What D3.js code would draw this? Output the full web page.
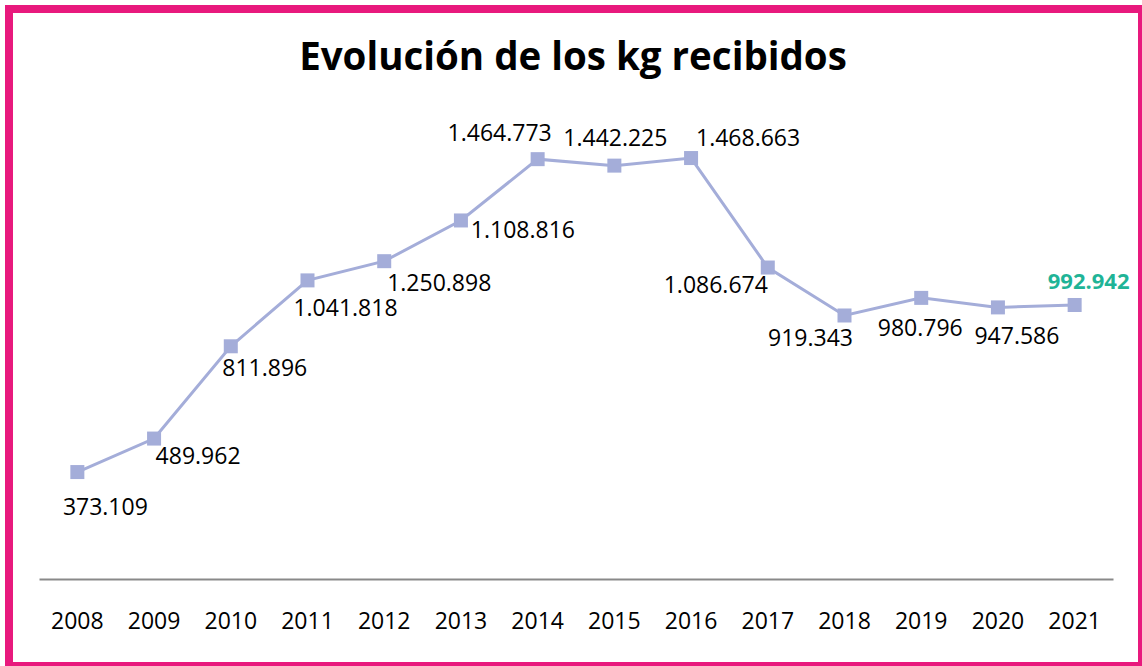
<!DOCTYPE html>
<html>
<head>
<meta charset="utf-8">
<script src="https://cdn.jsdelivr.net/npm/d3@7"></script>
<style>
  body { margin: 0; background: #fff; }
  svg { display: block; }
</style>
</head>
<body>
<div id="chart"></div>
<script>
// data: plotted values
const years = ["2008", "2009", "2010", "2011", "2012", "2013", "2014",
               "2015", "2016", "2017", "2018", "2019", "2020", "2021"];
const kg = [373109, 489962, 811896, 1041818, 1108816, 1250898, 1464773,
            1442225, 1468663, 1086674, 919343, 980796, 947586, 956000];
// label texts exactly as printed next to each marker
const labels = ["373.109", "489.962", "811.896", "1.041.818", "1.250.898", "1.108.816", "1.464.773",
                "1.442.225", "1.468.663", "1.086.674", "919.343", "980.796", "947.586", "992.942"];

// where each value label sits relative to its marker (dx, dy of baseline)
const labelOffset = [[28, 43], [44, 25], [34, 30], [38, 36], [55, 30], [62, 18], [-38, -18],
                     [1, -20], [57, -12], [-52, 25], [-34, 31], [-1, 38], [19, 37], [14, -16]];

const width = 1142, height = 666;
const lineColor = "#a4add9";
const pink = "#e8197d";

const svg = d3.select("#chart").append("svg")
    .attr("width", width)
    .attr("height", height);

// frame
svg.append("rect")
    .attr("x", 9).attr("y", 9)
    .attr("width", 1133).attr("height", 657)
    .attr("fill", "#fff")
    .attr("stroke", pink)
    .attr("stroke-width", 8);

svg.append("text")
    .attr("x", 573).attr("y", 70)
    .attr("text-anchor", "middle")
    .attr("font-family", "'Open Sans', sans-serif")
    .attr("font-weight", 700)
    .attr("font-size", 38.5)
    .attr("fill", "#000")
    .text("Evolución de los kg recibidos");

const x = d3.scaleBand().domain(years).range([39, 1113]);
const y = d3.scaleLinear().domain([0, 1600000]).range([579, 120.4]);
const cx = d => x(d) + x.bandwidth() / 2;

// category axis
const xAxis = svg.append("g")
    .attr("transform", `translate(0,${y(0)})`)
    .call(d3.axisBottom(x).tickSize(0).tickPadding(50));
xAxis.select(".domain").attr("stroke", "#898989").attr("stroke-width", 2);
xAxis.selectAll("text")
    .attr("font-family", "'Open Sans', sans-serif")
    .attr("font-size", 23)
    .attr("fill", "#000")
    .attr("dy", 0);

const pts = years.map((yr, i) => ({
    year: yr, value: kg[i], label: labels[i], off: labelOffset[i], last: i === years.length - 1
}));

svg.append("path")
    .datum(pts)
    .attr("fill", "none")
    .attr("stroke", lineColor)
    .attr("stroke-width", 3)
    .attr("d", d3.line().x(d => cx(d.year)).y(d => y(d.value)));

svg.selectAll("rect.marker")
    .data(pts)
    .join("rect")
    .attr("class", "marker")
    .attr("x", d => cx(d.year) - 7)
    .attr("y", d => y(d.value) - 7)
    .attr("width", 14).attr("height", 14)
    .attr("fill", lineColor);

svg.selectAll("text.lbl")
    .data(pts)
    .join("text")
    .attr("class", "lbl")
    .attr("x", d => cx(d.year) + d.off[0])
    .attr("y", d => y(d.value) + d.off[1])
    .attr("text-anchor", "middle")
    .attr("font-family", "'Open Sans', sans-serif")
    .attr("font-size", d => d.last ? 22 : 23)
    .attr("font-weight", d => d.last ? 700 : 400)
    .attr("fill", d => d.last ? "#1fb497" : "#000")
    .text(d => d.label);
</script>
</body>
</html>
